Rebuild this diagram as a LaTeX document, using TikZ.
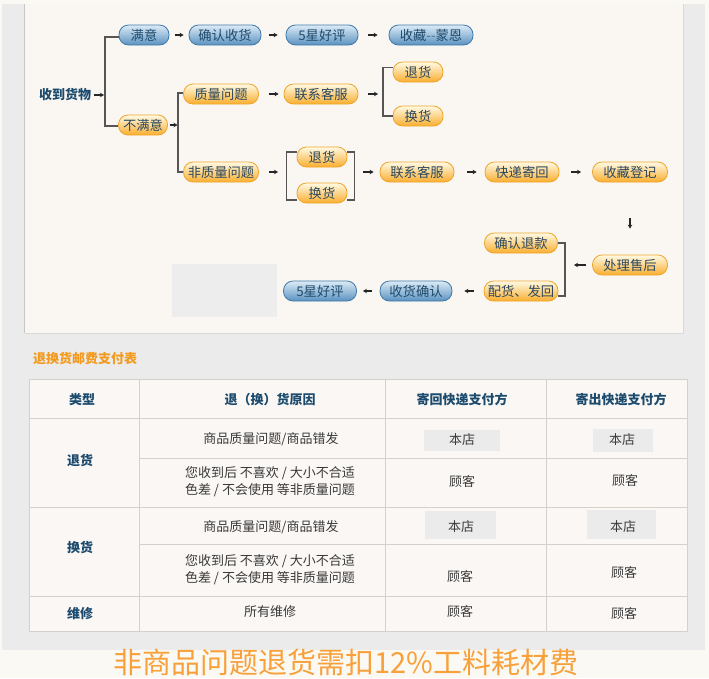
\documentclass[tikz,border=0pt]{standalone}
\usepackage{fontspec}
\newfontfamily\cjk{Noto Sans CJK SC}
\usetikzlibrary{arrows.meta}
\definecolor{pagebg}{HTML}{FBF9F4}
\definecolor{graybg}{HTML}{EBEBEB}
\definecolor{panelbg}{HTML}{FAF7F3}
\definecolor{bTop}{HTML}{DCEBF6}
\definecolor{bMid}{HTML}{A9CAE4}
\definecolor{bBot}{HTML}{5A92C0}
\definecolor{bBorder}{HTML}{4079A8}
\definecolor{bText}{HTML}{1F4A6B}
\definecolor{oTop}{HTML}{FFFAE4}
\definecolor{oMid}{HTML}{FDDC8A}
\definecolor{oBot}{HTML}{F9AE2E}
\definecolor{oBorder}{HTML}{EFA52A}
\definecolor{oText}{HTML}{2C475C}
\definecolor{hdBlue}{HTML}{1C4B6E}
\definecolor{brkC}{HTML}{555555}
\definecolor{tblLine}{HTML}{D6D0CA}
\definecolor{tblFill}{HTML}{FAF7F4}
\definecolor{cellGray}{HTML}{EBEBEB}
\definecolor{bodyTxt}{HTML}{3A3A3A}
\definecolor{ttlOrange}{HTML}{F39A1E}
\definecolor{noteOrange}{HTML}{F8A03A}
\definecolor{dashC}{HTML}{4E6A80}
\begin{document}
\begin{tikzpicture}[x=1pt,y=-1pt,
  pill/.style={rounded corners=9.5pt, line width=0.8pt, minimum height=20pt, inner sep=0pt,
    font=\cjk\fontsize{13.3}{13}\selectfont},
  pillb/.style={pill, draw=bBorder, top color=bTop, middle color=bMid, bottom color=bBot, text=bText},
  pillo/.style={pill, draw=oBorder, top color=oTop, middle color=oMid, bottom color=oBot, text=oText},
  arr/.style={-{Stealth[length=4pt,width=4.5pt]}, line width=1.1pt, black!85},
  brk/.style={draw=brkC, line width=1.2pt},
  hd/.style={font=\cjk\bfseries\fontsize{13}{13}\selectfont, text=hdBlue, inner sep=0pt},
  bd/.style={font=\cjk\fontsize{13}{17}\selectfont, text=bodyTxt, inner sep=0pt, align=center},
  tl/.style={draw=tblLine, line width=1pt}
]
\useasboundingbox (0,0) rectangle (709,678);
% backgrounds
\fill[pagebg] (0,0) rectangle (709,678);
\fill[graybg] (2,4) rectangle (705,650);
\fill[panelbg] (25,4) rectangle (683,333);
\draw[black!22, line width=1.5pt] (24.5,4) -- (24.5,333);
\draw[black!15, line width=1pt] (25,333) -- (683,333) -- (683,4);
\fill[black!7] (172,264) rectangle (277,317);

% flowchart
\node[hd] (recv) at (65,95) {收到货物};
\coordinate (b0) at (105,95);
\draw[arr, shorten <=3pt, shorten >=1pt] (recv.east) -- (b0);

\node[pillb, minimum width=50pt] (man) at (144,35) {满意};
\node[pillb, minimum width=72pt] (qr) at (225,35) {确认收货};
\node[pillb, minimum width=72pt] (hp1) at (322,35) {5星好评};
\node[pillb, minimum width=84pt] (sc) at (431,35) {收藏{\color{dashC}-{}-}蒙恩};
\draw[arr, shorten <=6pt, shorten >=5pt] (man) -- (qr);
\draw[arr, shorten <=8pt, shorten >=8pt] (qr) -- (hp1);
\draw[arr, shorten <=10pt, shorten >=11pt] (hp1) -- (sc);

\node[pillo, minimum width=49pt] (bum) at (143,125) {不满意};
\draw[brk] ([yshift=-2pt]man.west) -| (b0) |- ([yshift=-1pt]bum.west);

\coordinate (b1) at (178,125);
\draw[arr, shorten <=2pt, shorten >=0.5pt] (bum.east) -- (b1);
\node[pillo, minimum width=75pt] (zl) at (221,94) {质量问题};
\node[pillo, minimum width=74pt] (lx1) at (321,94) {联系客服};
\node[pillo, minimum width=75pt] (fzl) at (221,172) {非质量问题};
\draw[brk] ([yshift=1pt]zl.west) -| (b1) |- (fzl.west);
\draw[arr, shorten <=10pt, shorten >=5pt] (zl) -- (lx1);

\coordinate (b2) at (383,94);
\draw[arr, shorten <=10pt, shorten >=5pt] (lx1.east) -- (b2);
\node[pillo, minimum width=50pt] (th1) at (418,72) {退货};
\node[pillo, minimum width=50pt] (hh1) at (418,116) {换货};
\draw[brk] ([yshift=4.5pt]th1.west) -| (b2) |- (hh1.west);

\node[pillo, minimum width=50pt] (th2) at (322,157) {退货};
\node[pillo, minimum width=50pt] (hh2) at (322,193) {换货};
\draw[brk] ([yshift=5pt]th2.west) -- ++(-10,0) |- ([yshift=-7pt]hh2.west);
\draw[brk] ([yshift=5pt]th2.east) -- ++(7,0) |- ([yshift=-7pt]hh2.east);
\coordinate (bl) at (287,172);
\coordinate (br) at (354,172);
\draw[arr, shorten <=10pt, shorten >=9pt] (fzl.east) -- (bl);

\node[pillo, minimum width=74pt] (lx2) at (417,172) {联系客服};
\node[pillo, minimum width=74pt] (kd) at (522,172) {快递寄回};
\node[pillo, minimum width=75pt] (scd) at (630,172) {收藏登记};
\draw[arr, shorten <=9pt, shorten >=6pt] (br) -- (lx2.west);
\draw[arr, shorten <=13pt, shorten >=8pt] (lx2) -- (kd);
\draw[arr, shorten <=12pt, shorten >=11pt] (kd) -- (scd);

\node[pillo, minimum width=75pt] (clsh) at (630,265) {处理售后};
\draw[arr, shorten <=36pt, shorten >=26pt] (scd.south) -- (clsh.north);

\node[pillo, minimum width=73pt] (qrt) at (521,243) {确认退款};
\node[pillo, minimum width=74pt] (phf) at (521,291) {配货、发回};
\coordinate (b3) at (565,265);
\draw[arr, shorten <=6pt, shorten >=9pt] (clsh.west) -- (b3);
\draw[brk] (qrt.east) -| (b3) |- ([yshift=-5pt]phf.east);

\node[pillb, minimum width=72pt] (sh) at (416,291) {收货确认};
\node[pillb, minimum width=73pt] (hp2) at (320,291) {5星好评};
\draw[arr, shorten <=10pt, shorten >=12pt] (phf) -- (sh);
\draw[arr, shorten <=8pt, shorten >=6pt] (sh) -- (hp2);

% table
\node[anchor=west, font=\cjk\bfseries\fontsize{13}{13}\selectfont, text=ttlOrange, inner sep=0pt] (ttl) at (33,359) {退换货邮费支付表};
\fill[tblFill] (29,379) rectangle (687,631);
\fill[cellGray] (424,430) rectangle (500,451);
\fill[cellGray] (593,429) rectangle (653,452);
\fill[cellGray] (425,511) rectangle (496,539);
\fill[cellGray] (587,510) rectangle (656,539);
\draw[tl] (29,379) rectangle (687,631);
\draw[tl] (139,379) -- (139,631) (385,379) -- (385,631) (546,379) -- (546,631);
\draw[tl] (29,418) -- (687,418) (139,458) -- (687,458) (29,507) -- (687,507)
  (139,544) -- (687,544) (29,596) -- (687,596);
\draw[black!18, line width=1pt] (29,631.5) -- (687,631.5);

\node[hd] (h1) at (82,400) {类型};
\node[hd] (h2) at (270,400) {退（换）货原因};
\node[hd] (h3) at (462,400) {寄回快递支付方};
\node[hd] (h4) at (621,400) {寄出快递支付方};

\node[hd] (r1) at (80,461) {退货};
\node[hd] (r2) at (80,547) {换货};
\node[hd] (r3) at (80,614) {维修};

\node[bd] (c11) at (271,439) {商品质量问题/商品错发};
\node[bd] (c12) at (270,482) {您收到后 不喜欢 / 大小不合适\\色差 / 不会使用 等非质量问题};
\node[bd] (c21) at (271,527) {商品质量问题/商品错发};
\node[bd] (c22) at (270,570) {您收到后 不喜欢 / 大小不合适\\色差 / 不会使用 等非质量问题};
\node[bd] (c31) at (270,612) {所有维修};

\node[bd] (d11) at (462,440) {本店};
\node[bd] (e11) at (622,440) {本店};
\node[bd] (d12) at (462,482) {顾客};
\node[bd] (e12) at (625,481) {顾客};
\node[bd] (d21) at (461,527) {本店};
\node[bd] (e21) at (623,527) {本店};
\node[bd] (d22) at (460,577) {顾客};
\node[bd] (e22) at (624,573) {顾客};
\node[bd] (d31) at (460,612) {顾客};
\node[bd] (e31) at (624,614) {顾客};

\node[font=\cjk\fontsize{29}{29}\selectfont, text=noteOrange, inner sep=0pt] (note) at (346,662) {非商品问题退货需扣12\%工料耗材费};
\end{tikzpicture}
\end{document}
